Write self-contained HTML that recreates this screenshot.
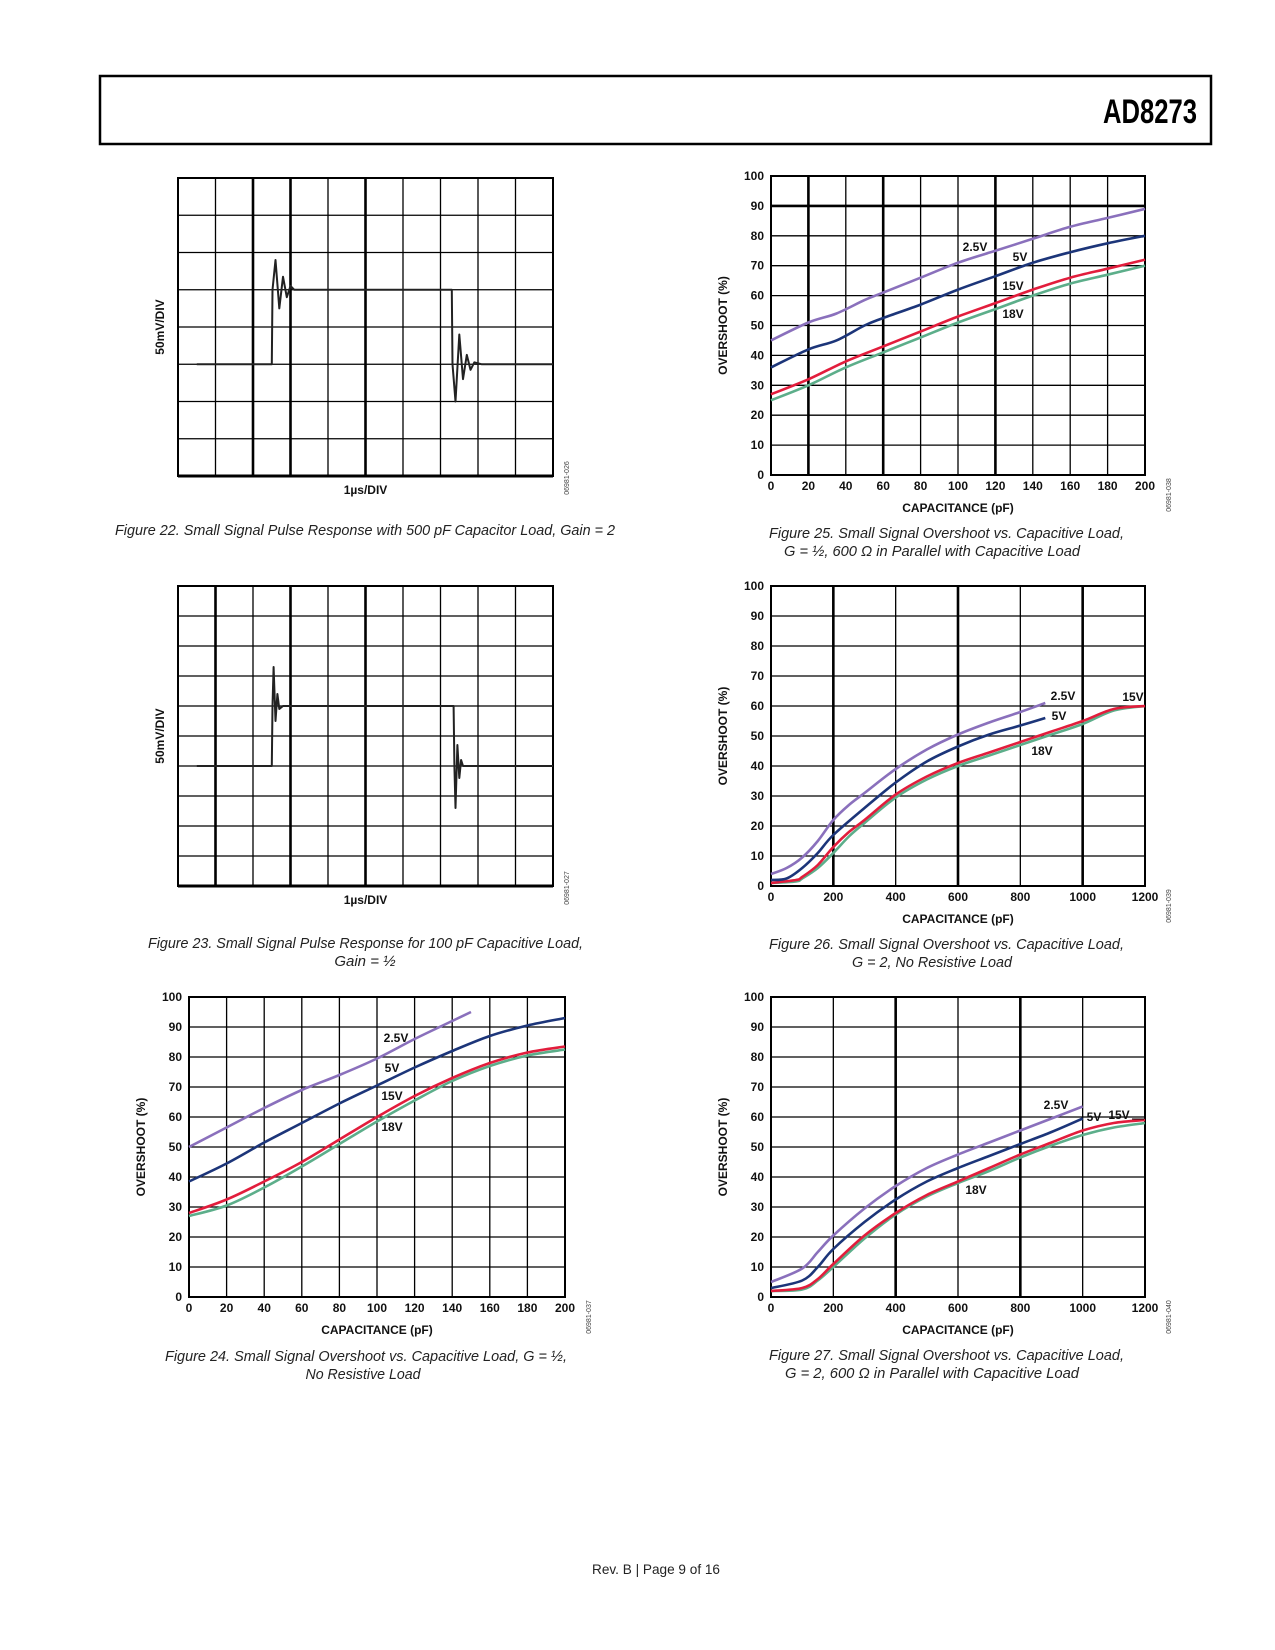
<!DOCTYPE html>
<html><head><meta charset="utf-8"><style>
html,body{margin:0;padding:0;background:#fff;}
svg{display:block;font-family:"Liberation Sans",sans-serif;}
.tk{font-size:12px;font-weight:bold;fill:#111;}
.cap{font-size:15px;font-style:italic;fill:#222;}
.code{font-size:7px;fill:#444;}
</style></head><body>
<svg id="page" width="1275" height="1650" viewBox="0 0 1275 1650" xmlns="http://www.w3.org/2000/svg">
<rect x="100" y="76" width="1111" height="68" fill="none" stroke="#000" stroke-width="2.5"/>
<text x="1197" y="123" text-anchor="end" font-size="34" font-weight="bold" textLength="94" lengthAdjust="spacingAndGlyphs">AD8273</text>
<text x="656" y="1574" text-anchor="middle" font-size="14" fill="#222" textLength="128" lengthAdjust="spacingAndGlyphs">Rev. B | Page 9 of 16</text>

<text class="cap" x="115" y="535" textLength="500" lengthAdjust="spacingAndGlyphs">Figure 22. Small Signal Pulse Response with 500 pF Capacitor Load, Gain = 2</text>
<text class="cap" x="148" y="948" textLength="435" lengthAdjust="spacingAndGlyphs">Figure 23. Small Signal Pulse Response for 100 pF Capacitive Load,</text>
<text class="cap" x="365" y="966" text-anchor="middle">Gain = ½</text>
<text class="cap" x="769" y="538" textLength="355" lengthAdjust="spacingAndGlyphs">Figure 25. Small Signal Overshoot vs. Capacitive Load,</text>
<text class="cap" x="932" y="556" text-anchor="middle" textLength="296" lengthAdjust="spacingAndGlyphs">G = ½, 600 Ω in Parallel with Capacitive Load</text>
<text class="cap" x="769" y="949" textLength="355" lengthAdjust="spacingAndGlyphs">Figure 26. Small Signal Overshoot vs. Capacitive Load,</text>
<text class="cap" x="932" y="967" text-anchor="middle" textLength="160" lengthAdjust="spacingAndGlyphs">G = 2, No Resistive Load</text>
<text class="cap" x="165" y="1361" textLength="402" lengthAdjust="spacingAndGlyphs">Figure 24. Small Signal Overshoot vs. Capacitive Load, G = ½,</text>
<text class="cap" x="363" y="1379" text-anchor="middle" textLength="115" lengthAdjust="spacingAndGlyphs">No Resistive Load</text>
<text class="cap" x="769" y="1360" textLength="355" lengthAdjust="spacingAndGlyphs">Figure 27. Small Signal Overshoot vs. Capacitive Load,</text>
<text class="cap" x="932" y="1378" text-anchor="middle" textLength="294" lengthAdjust="spacingAndGlyphs">G = 2, 600 Ω in Parallel with Capacitive Load</text>
</svg>
<script>
// ---- Figure 24 data (x: pF, y: %)
const f24_x25=[0,20,40,60,80,100,120,140,150];
const f24_y25=[50,56.5,63,69,74,79.5,86,92,95];
const f24_x5=[0,20,40,60,80,100,120,140,160,180,200];
const f24_y5=[38.5,44.5,51.5,58,64.5,70.5,76.5,82,87,90.5,93];
const f24_x15=[0,20,40,60,80,100,120,140,160,180,200];
const f24_y15=[28,32.5,38.5,45,52.5,60,67,73,78,81.5,83.5];
const f24_x18=[0,20,40,60,80,100,120,140,160,180,200];
const f24_y18=[27,30.5,36.5,43.5,51,58.5,65.5,72,77,80.5,82.5];
// ---- Figure 25 data
const f25_x25=[0,20,35,50,60,80,100,120,140,160,180,200];
const f25_y25=[45,51,54,58.5,61,66,71,75,79,83,86,89];
const f25_x5=[0,20,35,50,60,80,100,120,140,160,180,200];
const f25_y5=[36,42,45,50,52.5,57,62,66.5,71,74.5,77.5,80];
const f25_x15=[0,20,40,60,80,100,120,140,160,180,200];
const f25_y15=[27,32,38,43,48,53,57.5,62,66,69,72];
const f25_x18=[0,20,40,60,80,100,120,140,160,180,200];
const f25_y18=[25,30,36,41,46,51,55.5,60,64,67,70];
// ---- Figure 26 data
const f26_x25=[0,50,100,150,200,250,300,400,500,600,700,800,880];
const f26_y25=[4,6,9.5,15,22,27,31,39,45.5,50.5,54.5,58,61];
const f26_x5=[0,50,100,150,200,300,400,500,600,700,800,880];
const f26_y5=[2,2.5,6,11,17,26,34.5,41.5,46.5,50.5,53.5,56];
const f26_x15=[0,80,100,150,200,250,300,400,500,600,700,800,900,1000,1100,1200];
const f26_y15=[1,2,3,7,13,18,22,30.5,36.5,41,44.5,48,51.5,55,59,60];
const f26_x18=[0,80,100,150,200,250,300,400,500,600,700,800,900,1000,1100,1200];
const f26_y18=[1,1.5,2.5,6,11,16.5,21,29.5,35.5,40,43.5,47,50.5,54,58.5,60];
// ---- Figure 27 data
const f27_x25=[0,100,150,200,300,400,500,600,700,800,900,1000];
const f27_y25=[5,9.5,15,20.5,29.5,37,43,47.5,51.5,55.5,59.5,63.5];
const f27_x5=[0,100,150,200,300,400,500,600,700,800,900,1000];
const f27_y5=[3,5.5,10,16,25,32.5,38.5,43,47,51,55,59.5];
const f27_x15=[0,100,150,200,300,400,500,600,700,800,900,1000,1100,1200];
const f27_y15=[2,3,6,11,20.5,28,34,38.5,43,47.5,51.5,55.5,58,59];
const f27_x18=[0,100,150,200,300,400,500,600,700,800,900,1000,1100,1200];
const f27_y18=[2,2.5,5.5,10,19.5,27.5,33.5,38,42,46.5,50.5,54,56.5,58];
// ---- tick labels
const yTicks=[0,10,20,30,40,50,60,70,80,90,100];
const xTicks200=[0,20,40,60,80,100,120,140,160,180,200];
const xTicks1200=[0,200,400,600,800,1000,1200];
// ---- scope traces (divisions: x 0..10, y 0..div from bottom)
const s22_t=[0.5,2.5,2.52,2.6,2.7,2.8,2.9,3.0,3.1,3.3,7.3,7.32,7.4,7.5,7.6,7.7,7.8,7.9,8.1,10];
const s22_v=[3,3,5,5.8,4.5,5.35,4.8,5.1,5.0,5,5,3,2.0,3.8,2.6,3.25,2.85,3.05,3,3];
const s23_t=[0.5,2.5,2.52,2.55,2.6,2.65,2.7,2.8,7.35,7.37,7.4,7.45,7.5,7.55,7.6,10];
const s23_v=[4,4,6,7.3,5.5,6.4,5.9,6,6,4,2.6,4.7,3.6,4.2,4,4];

const NS="http://www.w3.org/2000/svg";
const svg=document.getElementById('page');
function mk(tag,attrs,parent){const e=document.createElementNS(NS,tag);for(const k in attrs)e.setAttribute(k,attrs[k]);(parent||svg).appendChild(e);return e;}
function smooth(pts){
  let d='M'+pts[0][0].toFixed(1)+','+pts[0][1].toFixed(1);
  for(let i=0;i<pts.length-1;i++){
    const p0=pts[i-1]||pts[i],p1=pts[i],p2=pts[i+1],p3=pts[i+2]||p2;
    const c1=[p1[0]+(p2[0]-p0[0])/6,p1[1]+(p2[1]-p0[1])/6];
    const c2=[p2[0]-(p3[0]-p1[0])/6,p2[1]-(p3[1]-p1[1])/6];
    d+='C'+c1[0].toFixed(1)+','+c1[1].toFixed(1)+' '+c2[0].toFixed(1)+','+c2[1].toFixed(1)+' '+p2[0].toFixed(1)+','+p2[1].toFixed(1);
  }
  return d;
}
const COL={'2.5V':'#8a70bc','5V':'#1c3579','15V':'#e21d3c','18V':'#5cae8a'};

function chart(id,L,R,T,B,xmax,xticks,thickX,thickY,series,labels,code){
  const g=mk('g',{});
  
  
  const sx=v=>L+(R-L)*v/xmax, sy=v=>B-(B-T)*v/100;
  xticks.forEach((t,i)=>{
    const ln=mk('line',{x1:sx(t),x2:sx(t),y1:T,y2:B,stroke:'#000','stroke-width':thickX.includes(t)?2.6:1.3},g);
    
    
    const tx=mk('text',{x:sx(t),y:B+15,'text-anchor':'middle',class:'tk'},g);tx.textContent=t;
    
    
  });
  yTicks.forEach(t=>{
    const ln=mk('line',{x1:L,x2:R,y1:sy(t),y2:sy(t),stroke:'#000','stroke-width':thickY.includes(t)?2.6:1.3},g);
    
    
    const tx=mk('text',{x:L-7,y:sy(t)+4,'text-anchor':'end',class:'tk'},g);tx.textContent=t;
    
    
  });
  const fr=mk('rect',{x:L,y:T,width:R-L,height:B-T,fill:'none',stroke:'#000','stroke-width':2},g);
  
  
  series.forEach(s=>{
    const pts=s.x.map((v,i)=>[sx(v),sy(s.y[i])]);
    const p=mk('path',{d:smooth(pts),fill:'none',stroke:COL[s.n],'stroke-width':2.6,'stroke-linejoin':'round'},g);
    
    
  });
  labels.forEach(l=>{
    const t=mk('text',{x:l[1],y:l[2]+4,'text-anchor':'middle',class:'tk'},g);t.textContent=l[0];
    
    
  });
  const xt=mk('text',{x:(L+R)/2,y:B+37,'text-anchor':'middle',class:'tk'},g);xt.textContent='CAPACITANCE (pF)';
  
  
  const yx=L-44,yy=(T+B)/2;
  const yt=mk('text',{x:yx,y:yy,'text-anchor':'middle',class:'tk',transform:'rotate(-90 '+yx+' '+yy+')'},g);yt.textContent='OVERSHOOT (%)';
  
  
  const cx=R+26,cy=B+20;
  const c=mk('text',{x:cx,y:cy,'text-anchor':'middle',class:'code',transform:'rotate(-90 '+cx+' '+cy+')'},g);c.textContent=code;
  
  
  return g;
}
function S(n,x,y){return {n:n,x:x,y:y};}

chart('figure-25-chart',771,1145,176,475,200,xTicks200,[20,60,120],[90],
 [S('18V',f25_x18,f25_y18),S('15V',f25_x15,f25_y15),S('5V',f25_x5,f25_y5),S('2.5V',f25_x25,f25_y25)],
 [['2.5V',975,247],['5V',1020,257],['15V',1013,286],['18V',1013,314]],'06981-038');
chart('figure-26-chart',771,1145,586,886,1200,xTicks1200,[200,600,1000],[],
 [S('18V',f26_x18,f26_y18),S('15V',f26_x15,f26_y15),S('5V',f26_x5,f26_y5),S('2.5V',f26_x25,f26_y25)],
 [['2.5V',1063,696],['5V',1059,716],['15V',1133,697],['18V',1042,751]],'06981-039');
chart('figure-24-chart',189,565,997,1297,200,xTicks200,[],[],
 [S('18V',f24_x18,f24_y18),S('15V',f24_x15,f24_y15),S('5V',f24_x5,f24_y5),S('2.5V',f24_x25,f24_y25)],
 [['2.5V',396,1038],['5V',392,1068],['15V',392,1096],['18V',392,1127]],'06981-037');
const c27=chart('figure-27-chart',771,1145,997,1297,1200,xTicks1200,[400,800],[],
 [S('18V',f27_x18,f27_y18),S('15V',f27_x15,f27_y15),S('5V',f27_x5,f27_y5),S('2.5V',f27_x25,f27_y25)],
 [['2.5V',1056,1105],['5V',1094,1117],['15V',1119,1115],['18V',976,1190]],'06981-040');
const lead=mk('line',{x1:1132,x2:1144,y1:1119,y2:1119,stroke:'#000','stroke-width':1},c27);



function scope(id,L,R,T,B,rows,thick,tArr,vArr,code){
  const g=mk('g',{});
  
  
  const sx=v=>L+(R-L)*v/10, sy=v=>B-(B-T)*v/rows;
  for(let i=1;i<10;i++){
    const ln=mk('line',{x1:sx(i),x2:sx(i),y1:T,y2:B,stroke:'#000','stroke-width':thick.includes(i)?2.6:1.3},g);
    
    
  }
  for(let i=1;i<rows;i++){
    const ln=mk('line',{x1:L,x2:R,y1:sy(i),y2:sy(i),stroke:'#000','stroke-width':1.3},g);
    
    
  }
  const fr=mk('rect',{x:L,y:T,width:R-L,height:B-T,fill:'none',stroke:'#000','stroke-width':2},g);
  
  
  const bl=mk('line',{x1:L,x2:R,y1:B,y2:B,stroke:'#000','stroke-width':3},g);
  
  
  const d=tArr.map((t,i)=>(i?'L':'M')+sx(t).toFixed(1)+','+sy(vArr[i]).toFixed(1)).join('');
  const p=mk('path',{d:d,fill:'none',stroke:'#222','stroke-width':2,'stroke-linejoin':'round'},g);
  
  
  const xt=mk('text',{x:(L+R)/2,y:B+18,'text-anchor':'middle',class:'tk'},g);xt.textContent='1µs/DIV';
  
  
  const yx=L-14,yy=(T+B)/2;
  const yt=mk('text',{x:yx,y:yy,'text-anchor':'middle',class:'tk',transform:'rotate(-90 '+yx+' '+yy+')'},g);yt.textContent='50mV/DIV';
  
  
  const cx=R+16,cy=B+2;
  const c=mk('text',{x:cx,y:cy,'text-anchor':'middle',class:'code',transform:'rotate(-90 '+cx+' '+cy+')'},g);c.textContent=code;
  
  
}
scope('figure-22-scope',178,553,178,476,8,[2,3,5],s22_t,s22_v,'06981-026');
scope('figure-23-scope',178,553,586,886,10,[1,3,5],s23_t,s23_v,'06981-027');
</script>
</body></html>
